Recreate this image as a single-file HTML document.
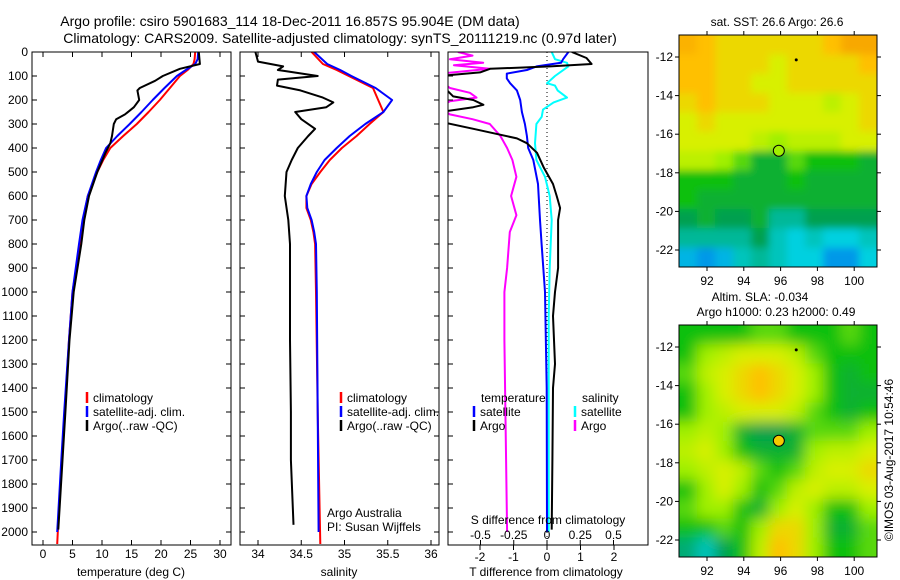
<!DOCTYPE html>
<html><head><meta charset="utf-8"><style>
html,body{margin:0;padding:0;background:#fff;}
svg{display:block;font-family:"Liberation Sans",sans-serif;}
</style></head><body>
<svg id="root" width="900" height="580" viewBox="0 0 900 580" xmlns="http://www.w3.org/2000/svg">
<defs><filter id="smooth" x="-10%" y="-10%" width="120%" height="120%"><feGaussianBlur stdDeviation="7"/></filter>
<filter id="smooth2" x="-10%" y="-10%" width="120%" height="120%"><feGaussianBlur stdDeviation="4"/></filter></defs>
<text x="290" y="26" font-size="14" text-anchor="middle">Argo profile: csiro 5901683_114 18-Dec-2011 16.857S 95.904E (DM data)</text>
<text x="340" y="43" font-size="14" text-anchor="middle">Climatology: CARS2009. Satellite-adjusted climatology: synTS_20111219.nc (0.97d later)</text>
<text x="777" y="26" font-size="12" text-anchor="middle">sat. SST: 26.6 Argo: 26.6</text>
<text x="760" y="301" font-size="12" text-anchor="middle">Altim. SLA: -0.034</text>
<text x="776" y="316" font-size="12" text-anchor="middle">Argo h1000: 0.23 h2000: 0.49</text>
<text transform="translate(893,460) rotate(-90)" font-size="12" text-anchor="middle">©IMOS 03-Aug-2017 10:54:46</text>
<g id="charts"></g>
</svg>
<script>
// ---------- data ----------
const tClimDepth = [0,30,50,75,100,150,200,250,300,350,400,450,500,600,700,800,1000,1200,1500,1700,2000,2050];
const tClimVal   = [25.8,25.7,25.5,24.5,23.2,21.5,19.8,17.9,15.9,13.6,11.4,10.2,9.2,7.6,6.8,6.3,5.0,4.4,3.7,3.2,2.5,2.4];
const tSatDepth  = [0,30,50,75,100,150,200,250,300,350,400,450,500,600,700,800,1000,1200,1500,1700,2000];
const tSatVal    = [26.3,26.2,25.8,24.2,22.7,20.6,18.6,16.7,14.7,12.6,10.7,9.8,9.0,7.6,6.7,6.1,5.0,4.4,3.6,3.1,2.4];
const tArgoDepth = [0,50,70,100,120,150,160,200,230,260,280,300,350,380,420,500,600,700,800,1000,1200,1500,1700,1990];
const tArgoVal   = [26.4,26.6,23.2,20.3,19.0,16.4,16.0,16.3,15.4,13.9,12.4,12.0,11.7,11.4,10.6,9.2,7.8,7.0,6.5,5.2,4.5,3.8,3.3,2.6];

const sClimDepth = [0,50,75,100,150,200,250,300,350,400,450,500,550,600,650,700,750,800,1000,1500,2050];
const sClimVal   = [34.62,34.75,34.91,35.05,35.33,35.39,35.45,35.29,35.14,34.97,34.83,34.72,34.62,34.56,34.56,34.61,34.64,34.66,34.67,34.69,34.72];
const sSatDepth  = [0,50,75,100,150,200,250,300,350,400,450,500,550,600,650,700,750,800,1000,1500,2000];
const sSatVal    = [34.65,34.80,34.95,35.08,35.36,35.55,35.45,35.24,35.06,34.91,34.77,34.68,34.61,34.56,34.57,34.62,34.65,34.67,34.68,34.69,34.70];
const sArgoDepth = [0,40,60,75,80,100,115,140,160,190,210,230,250,280,320,350,400,450,500,600,700,800,900,1200,1500,1700,1970];
const sArgoVal   = [33.97,34.0,34.29,34.23,34.33,34.69,34.23,34.22,34.49,34.75,34.87,34.79,34.43,34.5,34.66,34.58,34.46,34.39,34.33,34.31,34.35,34.37,34.37,34.37,34.38,34.38,34.41];

const dTArgoDepth = [0,25,50,60,70,85,100,130,185,200,220,230,250,290,320,360,380,420,480,550,600,650,700,800,900,1000,1100,1300,1400,1700,1990];
const dTArgoVal   = [0.74,1.18,1.33,0.1,-1.7,-2.0,-3.2,-3.2,-2.8,-2.2,-1.9,-2.2,-3.2,-3.2,-2.2,-0.9,-0.6,-0.3,-0.1,0.18,0.29,0.39,0.33,0.33,0.33,0.24,0.18,0.24,0.18,0.16,0.14];
const dTSatDepth  = [0,30,45,60,75,90,110,130,160,200,250,300,350,400,450,550,700,800,1000,1400,2000];
const dTSatVal    = [0.64,0.48,0.42,-0.31,-0.6,-1.2,-1.2,-1.1,-0.9,-0.8,-0.75,-0.66,-0.6,-0.56,-0.41,-0.27,-0.21,-0.16,-0.06,-0.01,0.0];
const dSSatDepth  = [0,30,45,60,70,100,130,140,160,190,210,240,270,300,380,450,520,600,700,900,1100,2000];
const dSSatVal    = [0.035,0.06,0.15,0.16,0.135,0.06,0.0,0.06,0.08,0.15,0.05,-0.03,-0.04,-0.08,-0.09,-0.08,-0.015,0.02,0.035,0.02,0.013,0.013];
const dSArgoDepth = [0,15,30,45,55,70,90,120,150,170,190,205,230,260,280,300,350,400,450,520,600,680,750,900,1000,1200,2000];
const dSArgoVal   = [-0.67,-0.56,-0.73,-0.48,-0.7,-0.43,-0.8,-0.8,-0.73,-0.58,-0.53,-0.73,-0.8,-0.73,-0.56,-0.43,-0.35,-0.3,-0.26,-0.23,-0.27,-0.23,-0.28,-0.3,-0.32,-0.32,-0.3];

const depthTicks = [0,100,200,300,400,500,600,700,800,900,1000,1100,1200,1300,1400,1500,1600,1700,1800,1900,2000];
const tempTicks = [0,5,10,15,20,25,30];
const salTicks = [34,34.5,35,35.5,36];
const dTTicks = [-2,-1,0,1,2];
const dSTicks = [-0.5,-0.25,0,0.25,0.5];
const dSTickLabels = ["-0.5","-0.25","0","0.25","0.5"];
const lonTicks = [92,94,96,98,100];
const latTicks = [-12,-14,-16,-18,-20,-22];

const sstGrid = [
[8.3,8,7.5,7.5,7.5,7.5,7.5,7.5,8,8.5,8.5],
[8,8,7.5,7.5,7.5,7,7.5,7.5,7.5,7.5,8],
[8,8,7.5,7.5,7,7,7.5,7.5,7.5,7.5,7.5],
[7.5,8,7.5,7.5,7.5,7,7,7,6.5,7,7.5],
[7,7.5,7,7,7,7,7,7,7,7,7.5],
[7,7,7,7,6.5,6,6.5,6.5,6.5,7,7],
[6.5,6.5,6,5.5,4.5,4.5,5.5,5,5,5,4.5],
[5,5,5,4.5,4.5,4.5,5,4.5,4.5,4.5,4.5],
[5,4.5,4.5,4.5,4.5,4.5,4.5,4.5,4.5,4.5,4.5],
[4,4.5,4,4,4.5,3,3,4,4,4,4],
[3,3,3,3,4,2.5,2,2.5,2,2,2.5],
[1.5,1,1.5,2.5,3,2.5,2,2,1,1,2]];
const slaGrid = [
[5,5,5,5,5.5,5.5,5,5,5,5.5,5],
[5,6,6.5,7,7,7,6.5,5.5,5,5,5],
[5.5,6.5,7,7.5,8,7.5,7,6,5,4.5,5],
[5,6,7,7.5,8,7.5,7,6,5,4.5,4.5],
[5,6,6.5,7,7,7,6.5,5.5,5,4.5,5],
[6,6.5,6,4.5,4,4,4.5,5.5,5.5,5.5,6],
[6.5,7,6,5,4.5,4.5,4.5,6,6.5,6.5,7],
[6,6.5,7,6.5,5.5,5,5.5,6.5,7,7,7.5],
[5,6,7,6,5,5.5,6.5,7,6.5,6.5,7],
[5.5,6,6,5,4.5,6,7,6,5,5,6],
[5,5,5.5,5,6,7.5,7.5,6,4.5,4.5,5.5],
[3.5,2.5,4,5,6.5,8,7.5,6,5,5,5.5]];
const argoLon = 95.904, argoLat = -16.857;

// ---------- helpers ----------
const NS = "http://www.w3.org/2000/svg";
const root = document.getElementById('charts');
function mk(tag, attrs, parent){ const e=document.createElementNS(NS,tag); for(const k in attrs) e.setAttribute(k,attrs[k]); (parent||root).appendChild(e); return e; }
const Y0=52, PY=0.24, YB=545;
const yD = d => Y0 + d*PY;

let clipN=0;
function panel(x0,x1,name){
  const g = mk('g',{});
  
  
  const id='clip'+(clipN++);
  const cp=mk('clipPath',{id:id},g); mk('rect',{x:x0,y:Y0,width:x1-x0,height:YB-Y0},cp);
  const lines=mk('g',{'clip-path':'url(#'+id+')'},g);
  return {g,lines};
}
function frame(g,x0,x1,name){
  const r=mk('rect',{x:x0,y:Y0,width:x1-x0,height:YB-Y0,fill:'none',stroke:'#000','stroke-width':1},g);
  
  
  depthTicks.forEach(d=>{
    mk('line',{x1:x0,x2:x0+5,y1:yD(d),y2:yD(d),stroke:'#000'},g);
    mk('line',{x1:x1,x2:x1-5,y1:yD(d),y2:yD(d),stroke:'#000'},g);
  });
}
function line(g,depths,vals,xf,color,w,name){
  const pts=depths.map((d,i)=>xf(vals[i]).toFixed(1)+','+yD(d).toFixed(1)).join(' ');
  const p=mk('polyline',{points:pts,fill:'none',stroke:color,'stroke-width':w,'stroke-linejoin':'round'},g);
  
  
}
function xTicks(g,ticks,labels,xf,yLab,name){
  ticks.forEach((t,i)=>{
    const x=xf(t);
    mk('line',{x1:x,x2:x,y1:YB,y2:YB-5,stroke:'#000'},g);
    mk('line',{x1:x,x2:x,y1:Y0,y2:Y0+5,stroke:'#000'},g);
    const tx=mk('text',{x:x,y:yLab,'font-size':12,'text-anchor':'middle'},g);
    tx.textContent=labels[i];
    
    
  });
}
function label(g,x,y,txt,name,anchor){
  const t=mk('text',{x:x,y:y,'font-size':12,'text-anchor':anchor||'middle'},g);
  t.textContent=txt;
  
  
}
function legendItem(g,x,y,color,txt,name){
  mk('line',{x1:x,x2:x,y1:y-10,y2:y+1,stroke:color,'stroke-width':2.5},g);
  label(g,x+6,y,txt,name,'start');
}

// ---------- panel 1: temperature ----------
{
  const x0=32,x1=231; const xT=v=>43+v*5.9;
  const P=panel(x0,x1,'temperature-panel');
  line(P.lines,tClimDepth,tClimVal,xT,'#ff0000',2,'temp-climatology-line');
  line(P.lines,tSatDepth,tSatVal,xT,'#0000ff',2,'temp-satellite-line');
  line(P.lines,tArgoDepth,tArgoVal,xT,'#000000',2,'temp-argo-line');
  frame(P.g,x0,x1,'temperature-axes-frame');
  depthTicks.forEach(d=>label(P.g,28,yD(d)+4,String(d),'depth-tick-label','end'));
  xTicks(P.g,tempTicks,tempTicks.map(String),xT,558,'temp-tick-label');
  label(P.g,131,576,'temperature (deg C)','temp-axis-title');
  legendItem(P.g,87,402,'#ff0000','climatology','legend-climatology');
  legendItem(P.g,87,416,'#0000ff','satellite-adj. clim.','legend-satellite');
  legendItem(P.g,87,430,'#000000','Argo(..raw -QC)','legend-argo');
}
// ---------- panel 2: salinity ----------
{
  const x0=240,x1=439; const xS=v=>258+(v-34)*86.5;
  const P=panel(x0,x1,'salinity-panel');
  line(P.lines,sClimDepth,sClimVal,xS,'#ff0000',2,'sal-climatology-line');
  line(P.lines,sSatDepth,sSatVal,xS,'#0000ff',2,'sal-satellite-line');
  line(P.lines,sArgoDepth,sArgoVal,xS,'#000000',2,'sal-argo-line');
  frame(P.g,x0,x1,'salinity-axes-frame');
  xTicks(P.g,salTicks,salTicks.map(String),xS,558,'sal-tick-label');
  label(P.g,339,576,'salinity','sal-axis-title');
  legendItem(P.g,341,402,'#ff0000','climatology','legend-climatology-2');
  legendItem(P.g,341,416,'#0000ff','satellite-adj. clim.','legend-satellite-2');
  legendItem(P.g,341,430,'#000000','Argo(..raw -QC)','legend-argo-2');
  label(P.g,327,517,'Argo Australia','credit-argo-australia','start');
  label(P.g,327,531,'PI: Susan Wijffels','credit-pi','start');
}
// ---------- panel 3: differences ----------
{
  const x0=448,x1=648; const xT=v=>547+v*33.5; const xS=v=>547+v*133;
  const P=panel(x0,x1,'difference-panel');
  mk('line',{x1:547,x2:547,y1:Y0,y2:YB,stroke:'#000','stroke-dasharray':'1,3'},P.lines);
  line(P.lines,dSArgoDepth,dSArgoVal,xS,'#ff00ff',2,'sdiff-argo-line');
  line(P.lines,dSSatDepth,dSSatVal,xS,'#00ffff',2,'sdiff-satellite-line');
  line(P.lines,dTSatDepth,dTSatVal,xT,'#0000ff',2,'tdiff-satellite-line');
  line(P.lines,dTArgoDepth,dTArgoVal,xT,'#000000',2,'tdiff-argo-line');
  mk('rect',{x:x0,y:Y0,width:x1-x0,height:YB-Y0,fill:'none',stroke:'#000'},P.g);
  depthTicks.forEach(d=>{
    mk('line',{x1:x0,x2:x0+5,y1:yD(d),y2:yD(d),stroke:'#000'},P.g);
  });
  dTTicks.forEach(t=>{
    mk('line',{x1:xT(t),x2:xT(t),y1:YB,y2:YB+5,stroke:'#000'},P.g);
    label(P.g,xT(t),561,String(t),'tdiff-tick-label');
  });
  dSTicks.forEach((t,i)=>{
    mk('line',{x1:xS(t),x2:xS(t),y1:YB,y2:YB-5,stroke:'#000'},P.g);
    label(P.g,xS(t),539,dSTickLabels[i],'sdiff-tick-label');
  });
  label(P.g,548,524,'S difference from climatology','sdiff-axis-title');
  label(P.g,546,576,'T difference from climatology','tdiff-axis-title');
  label(P.g,481,402,'temperature','legend-temperature-header','start');
  legendItem(P.g,474,416,'#0000ff','satellite','legend-tdiff-satellite');
  legendItem(P.g,474,430,'#000000','Argo','legend-tdiff-argo');
  label(P.g,582,402,'salinity','legend-salinity-header','start');
  legendItem(P.g,575,416,'#00ffff','satellite','legend-sdiff-satellite');
  legendItem(P.g,575,430,'#ff00ff','Argo','legend-sdiff-argo');
}
// ---------- maps ----------
const cStops=[[0,[0,96,240]],[2,[0,208,224]],[4,[0,160,80]],[5,[16,192,16]],[6,[160,240,0]],[7,[216,240,0]],[8,[255,192,0]],[9,[240,144,0]]];
function cmap(v){
  if(v<=cStops[0][0]) return 'rgb('+cStops[0][1]+')';
  for(let i=1;i<cStops.length;i++){ if(v<=cStops[i][0]){ const a=cStops[i-1],b=cStops[i]; const f=(v-a[0])/(b[0]-a[0]); return 'rgb('+a[1].map((c,j)=>Math.round(c+(b[1][j]-c)*f)).join(',')+')'; } }
  return 'rgb('+cStops[cStops.length-1][1]+')';
}
function drawMap(grid,yTop,name,circleFill,filterId){
  const x0=679,x1=877,y0=yTop,y1=yTop+232;
  const xL=lon=>707+(lon-92)*18.4, yL=lat=>yTop+22+(-12-lat)*19.3;
  const g=mk('g',{});
  
  
  const id='mclip'+(clipN++);
  const cp=mk('clipPath',{id:id},g); mk('rect',{x:x0,y:y0,width:x1-x0,height:y1-y0},cp);
  const cg=mk('g',{'clip-path':'url(#'+id+')'},g);
  const inner=mk('g',{filter:'url(#'+filterId+')'},cg);
  const rows=grid.length, cols=grid[0].length, cw=(x1-x0)/cols, ch=(y1-y0)/rows, pad=25;
  grid.forEach((row,r)=>row.forEach((v,c)=>{
    let x=x0+c*cw, y=y0+r*ch, w=cw+0.6, h=ch+0.6;
    if(c===0){x-=pad;w+=pad;} if(c===cols-1){w+=pad;}
    if(r===0){y-=pad;h+=pad;} if(r===rows-1){h+=pad;}
    const cell=mk('rect',{x:x.toFixed(2),y:y.toFixed(2),width:w.toFixed(2),height:h.toFixed(2),fill:cmap(v)},inner);
    
    
  }));
  mk('rect',{x:x0,y:y0,width:x1-x0,height:y1-y0,fill:'none',stroke:'#000'},g);
  lonTicks.forEach(l=>{ const x=xL(l);
    mk('line',{x1:x,x2:x,y1:y0,y2:y0-4,stroke:'#000'},g);
    mk('line',{x1:x,x2:x,y1:y1,y2:y1+4,stroke:'#000'},g);
    label(g,x,y1+18,String(l),'lon-tick-label'); });
  latTicks.forEach(l=>{ const y=yL(l);
    mk('line',{x1:x0,x2:x0-4,y1:y,y2:y,stroke:'#000'},g);
    mk('line',{x1:x1,x2:x1+4,y1:y,y2:y,stroke:'#000'},g);
    label(g,673,y+4,String(l),'lat-tick-label','end'); });
  mk('circle',{cx:xL(96.85),cy:yL(-12.15),r:1.5,fill:'#000'},g);
  const c=mk('circle',{cx:xL(argoLon),cy:yL(argoLat),r:5.5,fill:circleFill,stroke:'#000','stroke-width':1},g);
  
  
}
drawMap(sstGrid,35,'sst-map',cmap(6),'smooth2');
drawMap(slaGrid,325,'sla-map',cmap(7.8),'smooth');
</script>
</body></html>
